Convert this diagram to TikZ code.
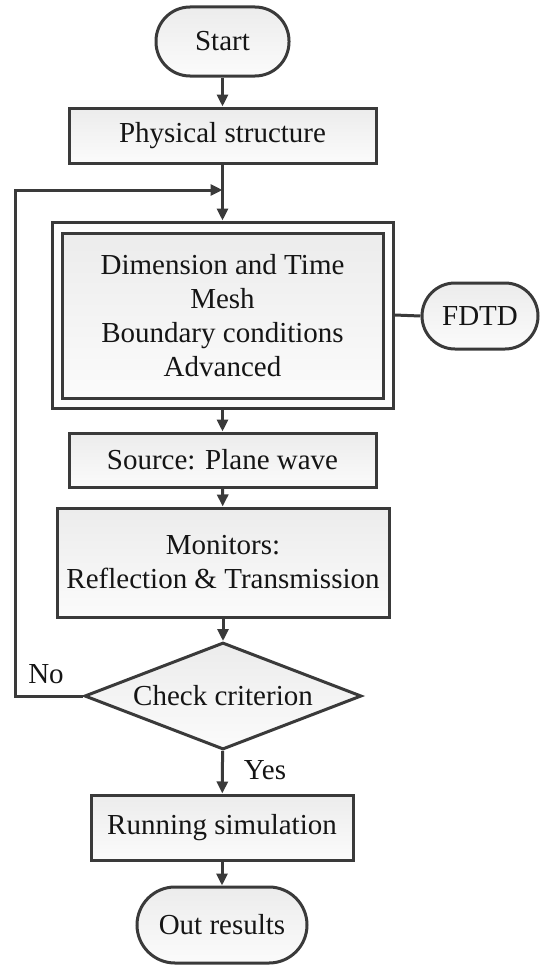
\documentclass[tikz,border=0pt]{standalone}
\usepackage{fontspec}
\setmainfont{Liberation Serif}
\usetikzlibrary{shapes.geometric,arrows.meta}
\definecolor{lc}{HTML}{3A3A3A}
\definecolor{tc}{HTML}{151515}
\begin{document}
\begin{tikzpicture}[x=1pt,y=-1pt,
  base/.style={draw=lc,line width=3pt,text=tc,inner sep=0pt,align=center,
    font=\fontsize{29}{34}\selectfont,top color=gray!15,bottom color=gray!3},
  pill/.style={base,rectangle,rounded corners=#1},
  boxn/.style={base,rectangle},
  dec/.style={base,diamond,aspect=2.59},
  arr/.style={draw=lc,line width=3pt,-{Triangle[length=12pt,width=11pt]}},
  ln/.style={draw=lc,line width=3pt},
  lab/.style={text=tc,font=\fontsize{29}{34}\selectfont,inner sep=0pt}]
\useasboundingbox (0,0) rectangle (541,966);
\node[pill=34pt,minimum width=133pt,minimum height=69pt] (start) at (222.5,41.5) {Start};
\node[boxn,minimum width=307pt,minimum height=55pt] (phys) at (222.5,135.5) {Physical structure};
\node[draw=lc,line width=3pt,fill=white,minimum width=341pt,minimum height=186pt,inner sep=0pt] (outer) at (222.5,315) {};
\node[boxn,minimum width=321pt,minimum height=165pt] (dim) at (222.5,315.5) {Dimension and Time\\Mesh\\Boundary conditions\\Advanced};
\node[pill=33pt,minimum width=116pt,minimum height=66pt] (fdtd) at (480,316) {FDTD};
\node[boxn,minimum width=307pt,minimum height=54pt] (src) at (222.5,460) {Source: Plane wave};
\node[boxn,minimum width=332pt,minimum height=109pt] (mon) at (223,562.5) {Monitors:\\Reflection \& Transmission};
\node[dec,minimum width=277pt,minimum height=107pt] (check) at (223,696) {Check criterion};
\node[boxn,minimum width=262pt,minimum height=65pt] (run) at (222,827.5) {Running simulation};
\node[pill=38pt,minimum width=170pt,minimum height=76pt] (out) at (222,925) {Out results};
\node[lab] (no) at (46,674) {No};
\node[lab] (yes) at (265,770) {Yes};
\coordinate (join) at (222.5,190);
\coordinate (fbcorner) at (15,696);
\draw[arr] (start) -- (phys);
\draw[arr] (phys) -- (outer);
\draw[arr] (check.west) -- (fbcorner) |- (join);
\draw[arr] (outer) -- (src);
\draw[arr] (src) -- (mon);
\draw[arr] (mon) -- (check);
\draw[arr] (check) -- (run);
\draw[arr] (run) -- (out);
\draw[ln] (outer.east) -- (fdtd.west);
\end{tikzpicture}
\end{document}
